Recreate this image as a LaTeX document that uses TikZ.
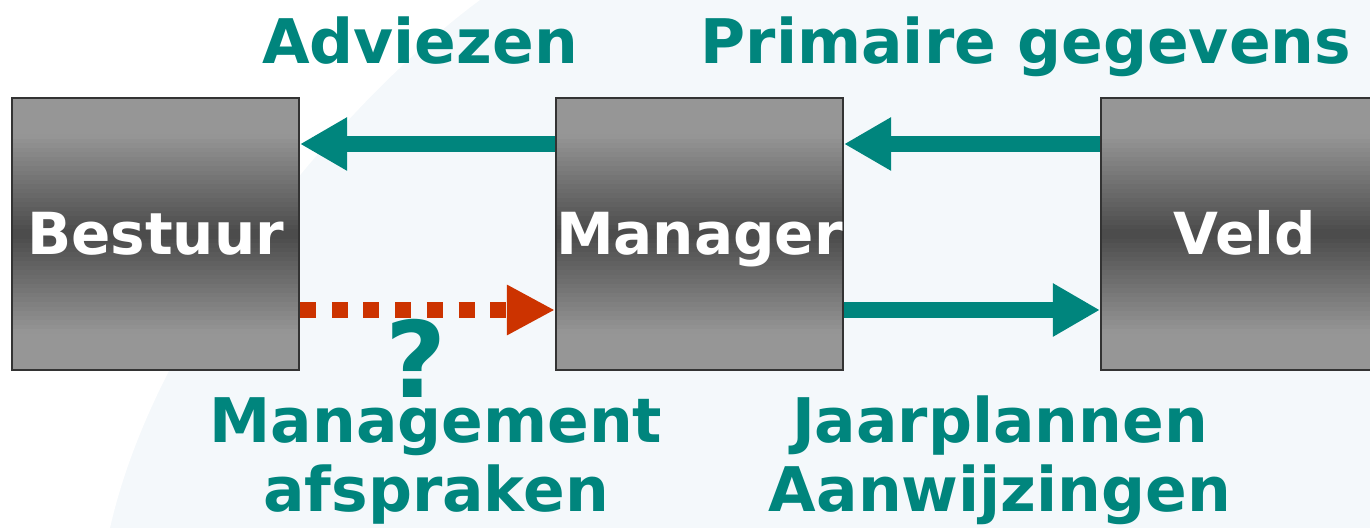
\documentclass[tikz,border=0pt]{standalone}
\usepackage{fontspec}
\setmainfont{DejaVu Sans}
\usetikzlibrary{arrows.meta, calc}
\definecolor{petrol}{HTML}{00857D}
\definecolor{rood}{HTML}{CC3300}
\definecolor{achtergrond}{HTML}{F4F8FB}
\begin{document}
\begin{tikzpicture}[
	blok/.style = {draw = black!80, line width = 0.6pt, minimum width = 2.87cm, minimum height = 2.72cm, inner sep = 0pt,
		text height = 0.54cm, text depth = 0.12cm, text = white, font = \bfseries\fontsize{16.5}{19}\selectfont,
		path picture = {
			\foreach \i in {0, ..., 59} {
				\pgfmathsetmacro{\grijs}{41 + 30*max(0, 1 - abs(\i - 29.5)/22)}
				\pgfmathsetmacro{\boven}{\i/60}
				\pgfmathsetmacro{\onder}{(\i + 1.4)/60}
				\fill[black!\grijs] ($(path picture bounding box.north west)!\boven!(path picture bounding box.south west)$)
					rectangle ($(path picture bounding box.north east)!\onder!(path picture bounding box.south east)$);
			}
		}},
	pijl/.style = {draw = petrol, line width = 0.16cm, -{Triangle[length = 0.47cm, width = 0.5cm]}},
	stippel/.style = {draw = rood, line width = 0.16cm, dash pattern = on 0.16cm off 0.157cm, -{Triangle[length = 0.48cm, width = 0.47cm]}},
	tekst/.style = {text = petrol, font = \bfseries\fontsize{17.5}{19.8}\selectfont, align = center, inner sep = 0pt}]
					\clip (0, 0) rectangle (13.70, 5.28);
					\fill[achtergrond] (0, 0) rectangle (13.70, 5.28);
					\fill[white] (0, 5.28) -- (4.8, 5.28) .. controls (3.6, 4.4) and (1.6, 2.2) .. (1.1, 0) -- (0, 0) -- cycle;
					\node[blok] (bestuur) at (1.555, 2.94) {Bestuur};
					\node[blok] (manager) at (6.995, 2.94) {Manager};
					\node[blok] (veld) at (12.445, 2.94) {Veld};
					\draw[pijl] ([yshift = 0.9cm]manager.west) -- ([yshift = 0.9cm]bestuur.east);
					\draw[pijl] ([yshift = 0.9cm]veld.west) -- ([yshift = 0.9cm]manager.east);
					\draw[pijl] ([yshift = -0.76cm]manager.east) -- ([yshift = -0.76cm]veld.west);
					\draw[stippel] ([yshift = -0.76cm]bestuur.east) -- ([yshift = -0.76cm]manager.west);
					\node[tekst, anchor = base] (adviezen) at (4.20, 4.64) {Adviezen};
					\node[tekst, anchor = base] (primair) at (10.26, 4.64) {Primaire gegevens};
					\node[tekst, anchor = base, font = \bfseries\fontsize{30}{32}\selectfont] (vraag) at (4.16, 1.30) {?};
					\node[tekst, anchor = base] (afspraken) at (4.36, 0.16) {Management\\afspraken};
					\node[tekst, anchor = base] (aanwijzingen) at (10.00, 0.16) {Jaarplannen\\Aanwijzingen};
				\end{tikzpicture}
\end{document}
